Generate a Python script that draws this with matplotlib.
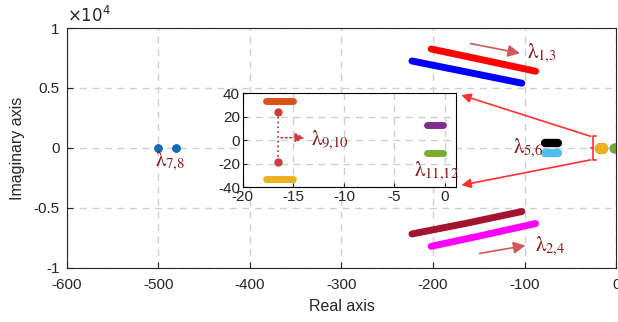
import matplotlib
matplotlib.use('Agg')
import matplotlib.pyplot as plt
import numpy as np

plt.rcParams['font.family'] = ['Liberation Sans', 'DejaVu Sans']
plt.rcParams['mathtext.fontset'] = 'stix'
plt.rcParams['axes.unicode_minus'] = False

# eigenvalue loci (real, imag)
l1_re = [-202, -145, -88]
l1_im = [8250, 7330, 6400]
l3_re = [-223, -163, -103]
l3_im = [7250, 6330, 5400]
l4_re = [-223, -163, -103]
l4_im = [-7170, -6270, -5300]
l2_re = [-202, -145, -88]
l2_im = [-8200, -7270, -6300]
l5_re = [-78, -63]
l5_im = [420, 420]
l6_re = [-78, -63]
l6_im = [-420, -420]
l78_re = [-500, -481]
l78_im = [0, 0]

# inset loci
l9_re = [-17.7, -15.0]
l9_im = [33, 33]
l10_re = [-17.7, -15.0]
l10_im = [-33, -33]
l9b_re = [-16.5, -16.5]
l9b_im = [24, -19]
l11_re = [-1.8, -0.2]
l11_im = [13, 13]
l12_re = [-1.8, -0.2]
l12_im = [-11, -11]

main_xticks = [-600, -500, -400, -300, -200, -100, 0]
main_yticks = [-1, -0.5, 0, 0.5, 1]
ins_xticks = [-20, -15, -10, -5, 0]
ins_yticks = [-40, -20, 0, 20, 40]

lab_col = '#8b1a1a'
arr_col = '#d05858'
txt_col = '#262626'


def lam(a, b):
    return r'$\mathrm{\lambda}_{%s{,}%s}$' % (a, b)


fig = plt.figure(figsize=(6.18, 3.22), dpi=100)
ax = fig.add_axes([0.108, 0.168, 0.889, 0.745])

lw = 5
ax.plot(l3_re, l3_im, color='#0000ff', lw=lw, solid_capstyle='round')
ax.plot(l1_re, l1_im, color='#ff0000', lw=lw, solid_capstyle='round')
ax.plot(l4_re, l4_im, color='#a2142f', lw=lw, solid_capstyle='round')
ax.plot(l2_re, l2_im, color='#ff00ff', lw=lw, solid_capstyle='round')
ax.plot(l5_re, l5_im, color='black', lw=lw + 1, solid_capstyle='round')
ax.plot(l6_re, l6_im, color='#4dbeee', lw=lw + 1, solid_capstyle='round')
ax.plot(l78_re, l78_im, 'o', color='#a2142f', ms=5)
ax.plot(l78_re, l78_im, 'o', color='#0072bd', ms=5)
# inset modes as seen at full scale
ax.plot(l9b_re, l9b_im, 'o', color='#d03c3c', ms=7)
ax.plot(l9_re, l9_im, 'o', color='#d95319', ms=7)
ax.plot(l10_re, l10_im, 'o', color='#edb120', ms=7)
ax.plot(l11_re, l11_im, 'o', color='#7e2f8e', ms=6)
ax.plot(l12_re, l12_im, 'o', color='#77ac30', ms=6)

ax.set_xlim(-600, 0)
ax.set_ylim(-10000, 10000)
ax.set_xticks(main_xticks)
ax.set_yticks([v * 1e4 for v in main_yticks])
ax.set_yticklabels(['-1', '-0.5', '0', '0.5', '1'])
ax.grid(True, ls=(0, (5, 4)), color='#d0d0d0', lw=1)
ax.tick_params(labelsize=11, colors=txt_col, direction='in', length=4)
ax.tick_params(axis='x', pad=7)
ax.tick_params(axis='y', pad=5)
for sp in ax.spines.values():
    sp.set_color('#262626')
ax.set_xlabel('Real axis', fontsize=11.5, color=txt_col, labelpad=5)
ax.set_ylabel('Imaginary axis', fontsize=11.5, color=txt_col, labelpad=6)
ax.text(0, 1.01, r'$\times10^4$', transform=ax.transAxes, fontsize=12,
        color=txt_col, family='DejaVu Sans', math_fontfamily='dejavusans', va='bottom')

# labels and arrows
ax.annotate('', xy=(-102, 7850), xytext=(-162, 8750),
            arrowprops=dict(arrowstyle='-|>', color=arr_col, lw=1.2, mutation_scale=18))
ax.annotate('', xy=(-96, -8100), xytext=(-152, -8830),
            arrowprops=dict(arrowstyle='-|>', color=arr_col, lw=1.2, mutation_scale=18))
ax.text(-97, 7850, lam(1, 3), fontsize=15, color=lab_col, va='center')
ax.text(-89, -8200, lam(2, 4), fontsize=15, color=lab_col, va='center')
ax.text(-79, 0, lam(5, 6), fontsize=15, color=lab_col, va='center', ha='right')
ax.text(-504, -1100, lam(7, 8), fontsize=15, color=lab_col, va='center')

# bracket around the slow modes
bx = -25
ax.plot([bx + 3, bx, bx, bx + 3], [1000, 1000, -1000, -1000], color='#ff3030', lw=1.2)
ax.plot([bx - 3, bx], [0, 0], color='#ff3030', lw=1.2)
ax.annotate('', xy=(-172, 4480), xytext=(bx, 900),
            arrowprops=dict(arrowstyle='-|>', color='#ff3030', lw=1.2, mutation_scale=14))
ax.annotate('', xy=(-172, -3150), xytext=(bx, -950),
            arrowprops=dict(arrowstyle='-|>', color='#ff3030', lw=1.2, mutation_scale=14))

# inset
ins = fig.add_axes([0.393, 0.419, 0.345, 0.292])
ins.plot(l9_re, l9_im, color='#d95319', lw=lw, solid_capstyle='round')
ins.plot(l10_re, l10_im, color='#edb120', lw=lw, solid_capstyle='round')
ins.plot(l9b_re, l9b_im, ':', color='#d03c3c', lw=1.3)
ins.plot(l9b_re, l9b_im, 'o', color='#d03c3c', ms=5)
ins.plot(l11_re, l11_im, color='#7e2f8e', lw=lw, solid_capstyle='round')
ins.plot(l12_re, l12_im, color='#77ac30', lw=lw, solid_capstyle='round')
ins.annotate('', xy=(-13.6, 2), xytext=(-16.5, 2),
             arrowprops=dict(arrowstyle='-|>', color='#d03c3c', lw=1.2, ls=':', mutation_scale=14))
ins.text(-13.3, 0, lam(9, 10), fontsize=15, color=lab_col, va='center')
ins.text(-3.1, -27, lam(11, 12), fontsize=15, color=lab_col, va='center')
ins.set_xlim(-20, 1.1)
ins.set_ylim(-40, 40)
ins.set_xticks(ins_xticks)
ins.set_yticks(ins_yticks)
ins.grid(True, ls=(0, (5, 4)), color='#d0d0d0', lw=1)
ins.tick_params(labelsize=11, colors=txt_col, direction='in', length=3, pad=2)

fig.savefig('out.png', dpi=100)
